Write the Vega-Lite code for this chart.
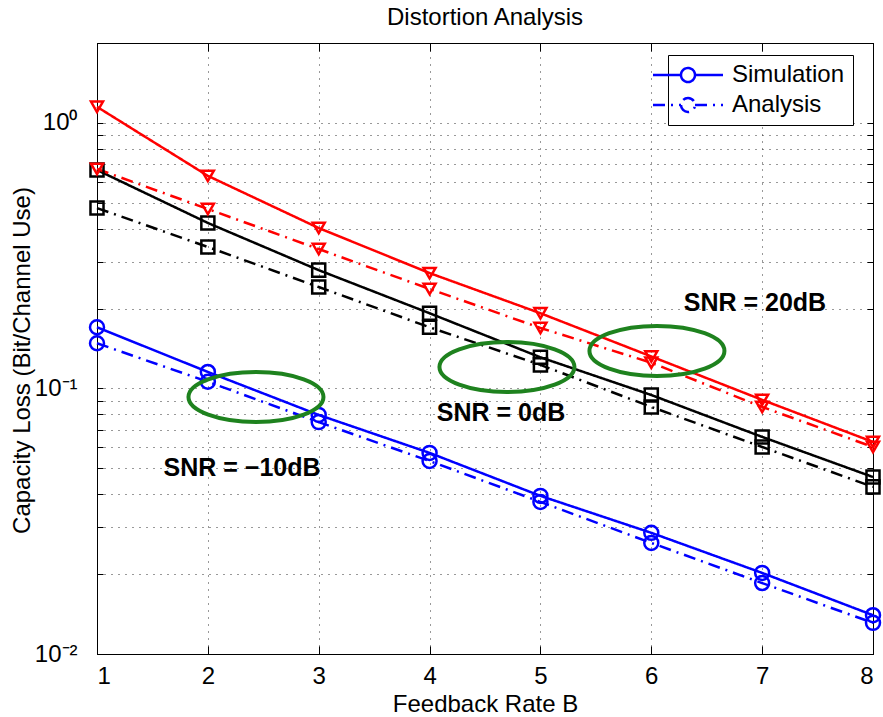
{
  "$schema": "https://vega.github.io/schema/vega-lite/v6.json",
  "width": 776,
  "height": 611,
  "autosize": {"type": "none"},
  "padding": {"left": 97, "top": 43, "right": 10, "bottom": 63},
  "title": {"text": "Distortion Analysis", "fontSize": 24, "fontWeight": "normal", "offset": 13, "color": "black"},
  "config": {"font": "Liberation Sans", "view": {"stroke": "black", "strokeWidth": 1}},
  "datasets": {
    "curves": [
      {"B": 1, "loss": 0.17, "snr": "-10dB", "type": "Simulation"},
      {"B": 2, "loss": 0.1154, "snr": "-10dB", "type": "Simulation"},
      {"B": 3, "loss": 0.0795, "snr": "-10dB", "type": "Simulation"},
      {"B": 4, "loss": 0.0572, "snr": "-10dB", "type": "Simulation"},
      {"B": 5, "loss": 0.0394, "snr": "-10dB", "type": "Simulation"},
      {"B": 6, "loss": 0.0286, "snr": "-10dB", "type": "Simulation"},
      {"B": 7, "loss": 0.0202, "snr": "-10dB", "type": "Simulation"},
      {"B": 8, "loss": 0.014, "snr": "-10dB", "type": "Simulation"},
      {"B": 1, "loss": 0.148, "snr": "-10dB", "type": "Analysis"},
      {"B": 2, "loss": 0.106, "snr": "-10dB", "type": "Analysis"},
      {"B": 3, "loss": 0.0747, "snr": "-10dB", "type": "Analysis"},
      {"B": 4, "loss": 0.0533, "snr": "-10dB", "type": "Analysis"},
      {"B": 5, "loss": 0.0374, "snr": "-10dB", "type": "Analysis"},
      {"B": 6, "loss": 0.0262, "snr": "-10dB", "type": "Analysis"},
      {"B": 7, "loss": 0.0185, "snr": "-10dB", "type": "Analysis"},
      {"B": 8, "loss": 0.0131, "snr": "-10dB", "type": "Analysis"},
      {"B": 1, "loss": 0.665, "snr": "0dB", "type": "Simulation"},
      {"B": 2, "loss": 0.42, "snr": "0dB", "type": "Simulation"},
      {"B": 3, "loss": 0.279, "snr": "0dB", "type": "Simulation"},
      {"B": 4, "loss": 0.192, "snr": "0dB", "type": "Simulation"},
      {"B": 5, "loss": 0.131, "snr": "0dB", "type": "Simulation"},
      {"B": 6, "loss": 0.0945, "snr": "0dB", "type": "Simulation"},
      {"B": 7, "loss": 0.0657, "snr": "0dB", "type": "Simulation"},
      {"B": 8, "loss": 0.0464, "snr": "0dB", "type": "Simulation"},
      {"B": 1, "loss": 0.478, "snr": "0dB", "type": "Analysis"},
      {"B": 2, "loss": 0.341, "snr": "0dB", "type": "Analysis"},
      {"B": 3, "loss": 0.241, "snr": "0dB", "type": "Analysis"},
      {"B": 4, "loss": 0.17, "snr": "0dB", "type": "Analysis"},
      {"B": 5, "loss": 0.1227, "snr": "0dB", "type": "Analysis"},
      {"B": 6, "loss": 0.0852, "snr": "0dB", "type": "Analysis"},
      {"B": 7, "loss": 0.0602, "snr": "0dB", "type": "Analysis"},
      {"B": 8, "loss": 0.0426, "snr": "0dB", "type": "Analysis"},
      {"B": 1, "loss": 1.15, "snr": "20dB", "type": "Simulation"},
      {"B": 2, "loss": 0.632, "snr": "20dB", "type": "Simulation"},
      {"B": 3, "loss": 0.402, "snr": "20dB", "type": "Simulation"},
      {"B": 4, "loss": 0.272, "snr": "20dB", "type": "Simulation"},
      {"B": 5, "loss": 0.192, "snr": "20dB", "type": "Simulation"},
      {"B": 6, "loss": 0.132, "snr": "20dB", "type": "Simulation"},
      {"B": 7, "loss": 0.0906, "snr": "20dB", "type": "Simulation"},
      {"B": 8, "loss": 0.0629, "snr": "20dB", "type": "Simulation"},
      {"B": 1, "loss": 0.671, "snr": "20dB", "type": "Analysis"},
      {"B": 2, "loss": 0.474, "snr": "20dB", "type": "Analysis"},
      {"B": 3, "loss": 0.335, "snr": "20dB", "type": "Analysis"},
      {"B": 4, "loss": 0.237, "snr": "20dB", "type": "Analysis"},
      {"B": 5, "loss": 0.169, "snr": "20dB", "type": "Analysis"},
      {"B": 6, "loss": 0.125, "snr": "20dB", "type": "Analysis"},
      {"B": 7, "loss": 0.0852, "snr": "20dB", "type": "Analysis"},
      {"B": 8, "loss": 0.0602, "snr": "20dB", "type": "Analysis"}
    ],
    "notes": [
      {"B": 6.935, "loss": 0.21, "label": "SNR = 20dB"},
      {"B": 4.644, "loss": 0.0809, "label": "SNR = 0dB"},
      {"B": 2.308, "loss": 0.0502, "label": "SNR = \u221210dB"}
    ],
    "rings": [
      {"B": 2.434, "loss": 0.0929},
      {"B": 4.698, "loss": 0.1205},
      {"B": 6.051, "loss": 0.1385}
    ]
  },
  "layer": [
    {
      "data": {"name": "curves"},
      "mark": {"type": "line", "strokeWidth": 2.5},
      "encoding": {
        "x": {
          "field": "B", "type": "quantitative",
          "scale": {"domain": [1, 8], "nice": false, "zero": false},
          "axis": {
            "values": [1, 2, 3, 4, 5, 6, 7, 8],
            "title": "Feedback Rate B",
            "titleFontSize": 24, "titleFontWeight": "normal", "titleColor": "black",
            "titleY": 57, "titleBaseline": "alphabetic",
            "labelFontSize": 24, "labelColor": "black", "labelPadding": 18,
            "grid": true, "gridDash": [1, 6], "gridColor": "#333333", "gridWidth": 1,
            "tickSize": -8, "tickColor": "black", "domainColor": "black"
          }
        },
        "y": {
          "field": "loss", "type": "quantitative",
          "scale": {"type": "log", "domain": [0.01, 2], "nice": false},
          "axis": {
            "values": [0.01, 0.02, 0.03, 0.04, 0.05, 0.06, 0.07, 0.08, 0.09, 0.1, 0.2, 0.3, 0.4, 0.5, 0.6, 0.7, 0.8, 0.9, 1, 2],
            "labelExpr": "datum.value == 1 ? '10\u2070' : datum.value == 0.1 ? '10\u207b\u00b9' : datum.value == 0.01 ? '10\u207b\u00b2' : ''",
            "title": "Capacity Loss (Bit/Channel Use)",
            "titleFontSize": 24, "titleFontWeight": "normal", "titleColor": "black",
            "titleX": -75, "titleY": 317, "titleBaseline": "middle", "titleAlign": "center", "titleAngle": -90,
            "labelFontSize": 24, "labelColor": "black", "labelPadding": 26,
            "grid": true, "gridDash": [1, 6], "gridColor": "#333333", "gridWidth": 1,
            "tickSize": -6, "tickColor": "black", "domainColor": "black"
          }
        },
        "color": {
          "field": "snr", "type": "nominal",
          "scale": {"domain": ["-10dB", "0dB", "20dB"], "range": ["#0000ff", "#000000", "#ff0000"]},
          "legend": null
        },
        "strokeDash": {
          "field": "type", "type": "nominal",
          "scale": {"domain": ["Simulation", "Analysis"], "range": [[1, 0], [12, 6, 2, 6]]},
          "legend": {
            "title": null, "orient": "none", "legendX": 571, "legendY": 12,
            "fillColor": "white", "strokeColor": "black", "padding": 8, "cornerRadius": 0,
            "labelFontSize": 24, "labelColor": "black", "labelOffset": 32, "rowPadding": 6,
            "symbolType": "M-5,0L-1,0M1,0L5,0M-1,0A1,1 0 1,0 1,0A1,1 0 1,0 -1,0",
            "symbolSize": 196, "symbolStrokeColor": "#0000ff", "symbolStrokeWidth": 2.5,
            "symbolFillColor": "transparent", "symbolOpacity": 1
          }
        }
      }
    },
    {
      "data": {"name": "curves"},
      "mark": {"type": "point", "filled": false, "strokeWidth": 2.5, "opacity": 1},
      "encoding": {
        "x": {"field": "B", "type": "quantitative", "axis": null},
        "y": {"field": "loss", "type": "quantitative", "axis": null},
        "color": {"field": "snr", "type": "nominal", "legend": null},
        "shape": {
          "field": "snr", "type": "nominal",
          "scale": {"domain": ["-10dB", "0dB", "20dB"], "range": ["circle", "square", "triangle-down"]},
          "legend": null
        },
        "size": {
          "field": "snr", "type": "ordinal",
          "scale": {"domain": ["-10dB", "0dB", "20dB"], "range": [196, 144, 400]},
          "legend": null
        }
      }
    },
    {
      "data": {"name": "rings"},
      "mark": {
        "type": "point", "filled": false, "strokeWidth": 4, "color": "#1e821e", "opacity": 1, "size": 18225,
        "shape": "M-1,0A1,0.37 0 1,0 1,0A1,0.37 0 1,0 -1,0Z"
      },
      "encoding": {
        "x": {"field": "B", "type": "quantitative", "axis": null},
        "y": {"field": "loss", "type": "quantitative", "axis": null}
      }
    },
    {
      "data": {"name": "notes"},
      "mark": {"type": "text", "fontSize": 25, "fontWeight": "bold", "color": "black", "align": "center", "baseline": "middle"},
      "encoding": {
        "x": {"field": "B", "type": "quantitative", "axis": null},
        "y": {"field": "loss", "type": "quantitative", "axis": null},
        "text": {"field": "label"}
      }
    },
    {
      "data": {"name": "rings"},
      "mark": {"type": "point", "opacity": 0},
      "encoding": {
        "x": {
          "field": "B", "type": "quantitative",
          "axis": {"orient": "top", "values": [1, 2, 3, 4, 5, 6, 7, 8], "labels": false, "title": null, "grid": false, "tickSize": -8, "tickColor": "black", "domainColor": "black"}
        },
        "y": {
          "field": "loss", "type": "quantitative",
          "axis": {"orient": "right", "values": [0.01, 0.02, 0.03, 0.04, 0.05, 0.06, 0.07, 0.08, 0.09, 0.1, 0.2, 0.3, 0.4, 0.5, 0.6, 0.7, 0.8, 0.9, 1, 2], "labels": false, "title": null, "grid": false, "tickSize": -6, "tickColor": "black", "domainColor": "black"}
        }
      }
    }
  ],
  "resolve": {"axis": {"x": "independent", "y": "independent"}}
}
